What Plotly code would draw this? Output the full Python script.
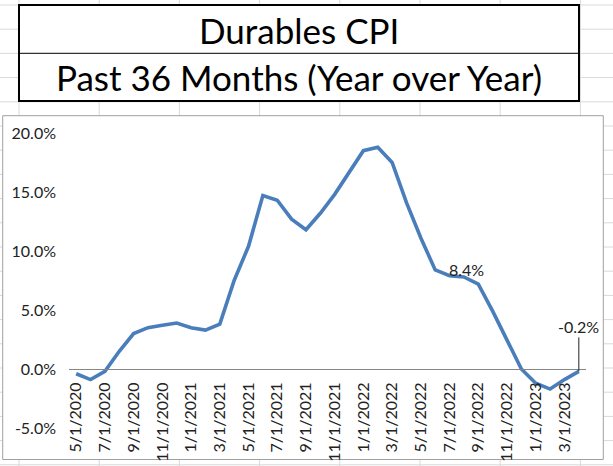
import plotly.graph_objects as go

# ---- data ----
dates = ["5/1/2020", "6/1/2020", "7/1/2020", "8/1/2020", "9/1/2020", "10/1/2020",
         "11/1/2020", "12/1/2020", "1/1/2021", "2/1/2021", "3/1/2021", "4/1/2021",
         "5/1/2021", "6/1/2021", "7/1/2021", "8/1/2021", "9/1/2021", "10/1/2021",
         "11/1/2021", "12/1/2021", "1/1/2022", "2/1/2022", "3/1/2022", "4/1/2022",
         "5/1/2022", "6/1/2022", "7/1/2022", "8/1/2022", "9/1/2022", "10/1/2022",
         "11/1/2022", "12/1/2022", "1/1/2023", "2/1/2023", "3/1/2023", "4/1/2023"]
cpi_yoy = [-0.4, -0.9, -0.2, 1.5, 3.0, 3.5, 3.7, 3.9, 3.5, 3.3, 3.8, 7.5,
           10.4, 14.7, 14.3, 12.7, 11.8, 13.2, 14.8, 16.6, 18.5, 18.8, 17.5, 14.1,
           11.1, 8.4, 7.9, 7.8, 7.2, 4.9, 2.5, 0.0, -1.2, -1.7, -0.9, -0.2]
tick_dates = dates[::2][:18]
y_ticks = [-5, 0, 5, 10, 15, 20]
y_ticktext = [f"{v:.1f}%" for v in y_ticks]
title1 = "Durables CPI"
title2 = "Past 36 Months (Year over Year)"

FONT = "Lato"
TXT = "#222222"
W, H = 613, 466
L, R, T, B = 69, 27, 133, 38
PW, PH = W - L - R, H - T - B


def px(x):
    return (x - L) / PW


def py(y):
    return (H - B - y) / PH


shapes = []
grid = "#d9d9d9"
# spreadsheet gridlines
for k in range(20):
    yy = 5 + 24.2 * k
    shapes.append(dict(type="line", xref="paper", yref="paper", layer="below",
                       x0=px(0), x1=px(W), y0=py(yy), y1=py(yy),
                       line=dict(color=grid, width=1)))
for k in range(8):
    xx = 19 + 80.2 * k
    shapes.append(dict(type="line", xref="paper", yref="paper", layer="below",
                       x0=px(xx), x1=px(xx), y0=py(0), y1=py(H),
                       line=dict(color=grid, width=1)))
# chart area
shapes.append(dict(type="rect", xref="paper", yref="paper", layer="below",
                   x0=px(2.7), x1=px(603.3), y0=py(115.7), y1=py(459.5),
                   fillcolor="white", line=dict(color="#a0a0a0", width=1)))
# title box
shapes.append(dict(type="rect", xref="paper", yref="paper", layer="below",
                   x0=px(19), x1=px(579), y0=py(5), y1=py(101),
                   fillcolor="white", line=dict(color="black", width=2)))
shapes.append(dict(type="line", xref="paper", yref="paper", layer="below",
                   x0=px(19), x1=px(579), y0=py(53.3), y1=py(53.3),
                   line=dict(color="black", width=1)))

fig = go.Figure()
fig.add_trace(go.Scatter(x=dates, y=cpi_yoy, mode="lines",
                         line=dict(color="#4a7ebb", width=3.6),
                         hoverinfo="skip", showlegend=False))

annotations = [
    dict(xref="paper", yref="paper", x=px(299), y=py(29.5), text=title1,
         showarrow=False, font=dict(family=FONT, size=35, color="black"),
         xanchor="center", yanchor="middle"),
    dict(xref="paper", yref="paper", x=px(299), y=py(77), text=title2,
         showarrow=False, font=dict(family=FONT, size=35, color="black"),
         xanchor="center", yanchor="middle"),
    dict(x=dates[25], y=cpi_yoy[25], text=f"{cpi_yoy[25]:.1f}%", showarrow=False,
         xanchor="left", yanchor="middle", xshift=12,
         font=dict(family=FONT, size=16, color=TXT)),
    dict(x=dates[35], y=cpi_yoy[35], text=f"{cpi_yoy[35]:.1f}%", showarrow=True,
         arrowhead=0, arrowwidth=1, arrowcolor=TXT, ax=0, ay=-45,
         font=dict(family=FONT, size=16, color=TXT)),
]

fig.update_layout(
    width=W, height=H,
    margin=dict(l=L, r=R, t=T, b=B, pad=0),
    paper_bgcolor="white", plot_bgcolor="rgba(0,0,0,0)",
    shapes=shapes, annotations=annotations,
    font=dict(family=FONT, size=16, color=TXT),
    hovermode=False,
    xaxis=dict(type="category", tickmode="array", tickvals=tick_dates,
               ticktext=tick_dates, tickangle=-90, showgrid=False,
               anchor="free", position=0.2, showline=True,
               linecolor="#868686", linewidth=1, ticks="",
               ticklabelstandoff=6, range=[-0.5, 35.5], automargin=False,
               tickfont=dict(family=FONT, size=16, color=TXT)),
    yaxis=dict(range=[-5, 20], tickmode="array", tickvals=y_ticks,
               ticktext=y_ticktext, showgrid=False, zeroline=False,
               showline=False, ticklabelstandoff=12, automargin=False,
               tickfont=dict(family=FONT, size=16, color=TXT)),
)

fig.write_html("out.html",
               config={"displayModeBar": False, "staticPlot": True},
               post_script="document.body.style.margin='0';document.body.style.overflow='hidden';")
